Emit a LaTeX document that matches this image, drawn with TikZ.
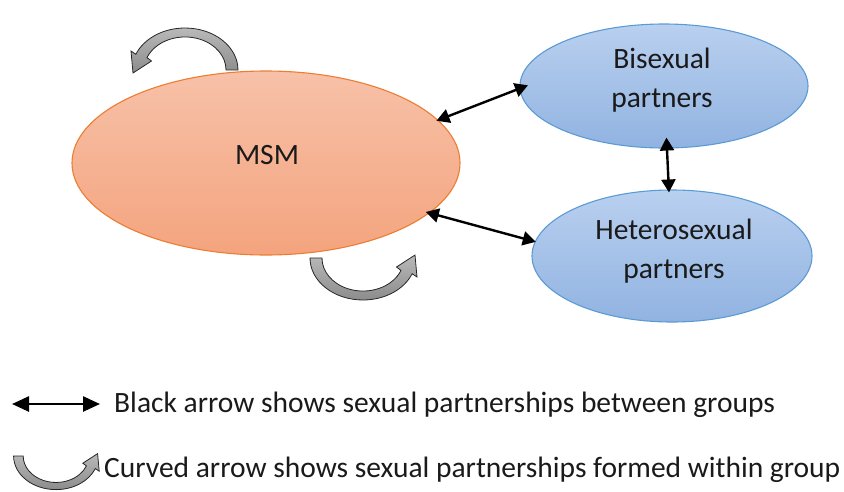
\documentclass[tikz,border=0pt]{standalone}
\usepackage{fontspec}
\setmainfont{Carlito}
\usetikzlibrary{shapes.geometric,arrows.meta}

\definecolor{msmtop}{HTML}{F7C1A8}
\definecolor{msmbot}{HTML}{F4A47E}
\definecolor{msmedge}{HTML}{ED7D31}
\definecolor{bltop}{HTML}{B9D0EF}
\definecolor{blbot}{HTML}{91B3E1}
\definecolor{bledge}{HTML}{5B9BD5}
\definecolor{inktext}{HTML}{1A1A1A}

\tikzset{
  txt/.style={text=inktext, font=\fontsize{29.5}{39}\selectfont, align=center, inner sep=0pt},
  grp/.style={ellipse, inner sep=0pt, line width=1.1pt},
  msmgrp/.style={grp, draw=msmedge, top color=msmtop, bottom color=msmbot},
  bigrp/.style={grp, draw=bledge, top color=bltop, bottom color=blbot},
  link/.style={{Triangle[length=13pt,width=14pt]}-{Triangle[length=13pt,width=14pt]}, line width=2.4pt, black},
  loopband/.style={draw=black!85, line width=0.8pt, top color=gray!55, bottom color=gray!90},
}

% curved within-group arrow, drawn around the origin
\newcommand{\loopshape}{%
  \path[loopband] (53,0) arc[start angle=0, end angle=158, x radius=53, y radius=42]
    -- (-54,19) -- (-52,-3) -- (-33.5,9)
    -- (-38.0,12.4) arc[start angle=158, end angle=0, x radius=41, y radius=33]
    -- cycle;}

\begin{document}
\begin{tikzpicture}[x=1pt, y=1pt]
\useasboundingbox (0,0) rectangle (844,-491);

% groups
\node[msmgrp, minimum width=388pt, minimum height=184pt] (msm) at (266,-163) {};
\node[bigrp, minimum width=288pt, minimum height=124pt] (bi) at (664,-86) {};
\node[bigrp, minimum width=280pt, minimum height=132pt] (het) at (672,-256) {};

\node[txt] (msmlabel) at (267,-155) {MSM};
\node[txt] (bilabel) at (662,-80) {Bisexual\\partners};
\node[txt] (hetlabel) at (674,-251) {Heterosexual\\partners};

% partnerships between groups
\draw[link, shorten <=-2pt, shorten >=-9pt] (msm.14) -- (bi.181);
\draw[link, shorten <=-4pt, shorten >=-1pt] (msm.-17) -- (het.174);
\draw[link, shorten <=-11pt, shorten >=-3pt] (bi) -- (het);

% partnerships within the MSM group
\begin{scope}[shift={(185,-70)}]
  \loopshape
\end{scope}
\begin{scope}[shift={(363,-258)}, rotate=180]
  \loopshape
\end{scope}

% legend
\coordinate (legA) at (12,-404);
\coordinate (legB) at (100,-404);
\draw[{Triangle[length=17pt,width=15pt]}-{Triangle[length=17pt,width=15pt]}, line width=2.6pt] (legA) -- (legB);
\node[txt, anchor=west] (legtxtA) at (114,-405) {Black arrow shows sexual partnerships between groups};

\begin{scope}[shift={(56,-456)}, rotate=180, scale=0.8]
  \loopshape
\end{scope}
\node[txt, anchor=west] (legtxtB) at (104,-470) {Curved arrow shows sexual partnerships formed within group};
\end{tikzpicture}
\end{document}
